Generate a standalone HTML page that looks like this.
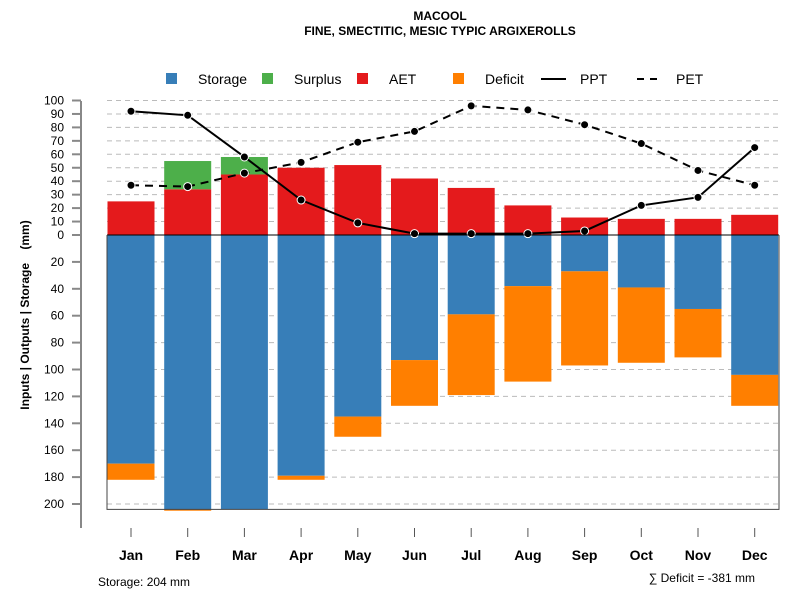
<!DOCTYPE html>
<html><head><meta charset="utf-8"><style>
body{margin:0;background:#fff}
svg text{font-family:"Liberation Sans",sans-serif}
</style></head><body>
<svg id="c" width="800" height="600" xmlns="http://www.w3.org/2000/svg">
<text x="440" y="20" text-anchor="middle" font-size="12" font-weight="bold">MACOOL</text>
<text x="440" y="35" text-anchor="middle" font-size="12" font-weight="bold">FINE, SMECTITIC, MESIC TYPIC ARGIXEROLLS</text>
<g id="grid"></g><g id="bars"></g><g id="lines"></g><g id="axes"></g>
<g font-size="14">
<rect x="166" y="73" width="11" height="11" fill="#377eb8"/><text x="198" y="84">Storage</text>
<rect x="262" y="73" width="11" height="11" fill="#4daf4a"/><text x="294" y="84">Surplus</text>
<rect x="357" y="73" width="11" height="11" fill="#e41a1c"/><text x="389" y="84">AET</text>
<rect x="453" y="73" width="11" height="11" fill="#ff7f00"/><text x="485" y="84">Deficit</text>
<line x1="541" y1="79" x2="566" y2="79" stroke="#000" stroke-width="2"/><text x="580" y="84">PPT</text>
<line x1="637" y1="79" x2="662" y2="79" stroke="#000" stroke-width="2" stroke-dasharray="7,6"/><text x="676" y="84">PET</text>
</g>
<text transform="translate(29,315) rotate(-90)" text-anchor="middle" font-size="12" font-weight="bold">Inputs | Outputs | Storage &#160;&#160;&#160;(mm)</text>
<text x="98" y="586" font-size="12">Storage: 204 mm</text>
<text x="755" y="582" text-anchor="end" font-size="12">∑ Deficit = -381 mm</text>
</svg>
<script>
const months=["Jan","Feb","Mar","Apr","May","Jun","Jul","Aug","Sep","Oct","Nov","Dec"];
const storage=[170,204,204,179,135,93,59,38,27,39,55,104];
const deficit=[12,1,0,3,15,34,60,71,70,56,36,23];
const aet=[25,34,45,50,52,42,35,22,13,12,12,15];
const surplus=[0,21,13,0,0,0,0,0,0,0,0,0];
const ppt=[92,89,58,26,9,1,1,1,3,22,28,65];
const pet=[37,36,46,54,69,77,96,93,82,68,48,37];
const upTicks=[0,10,20,30,40,50,60,70,80,90,100];
const downTicks=[20,40,60,80,100,120,140,160,180,200];
const NS="http://www.w3.org/2000/svg";
const K=1.345, Y0=235;
function y(v){return Y0-K*v;}
function x(i){return 131+i*56.7;}
function mk(tag,attrs,parent,name){const e=document.createElementNS(NS,tag);for(const k in attrs)e.setAttribute(k,attrs[k]);document.getElementById(parent).appendChild(e);


return e;}
const BW=47;
upTicks.forEach(t=>{if(t>0)mk('line',{x1:107,x2:779,y1:y(t),y2:y(t),stroke:'#bbb','stroke-dasharray':'5,4'},'grid','grid-line');});
downTicks.forEach(t=>{mk('line',{x1:107,x2:779,y1:y(-t),y2:y(-t),stroke:'#bbb','stroke-dasharray':'5,4'},'grid','grid-line');});
months.forEach((m,i)=>{
 const l=x(i)-BW/2;
 mk('rect',{x:l,y:Y0,width:BW,height:K*storage[i],fill:'#377eb8'},'bars','bar-storage-'+m.toLowerCase());
 if(deficit[i]>0)mk('rect',{x:l,y:Y0+K*storage[i],width:BW,height:K*deficit[i],fill:'#ff7f00'},'bars','bar-deficit-'+m.toLowerCase());
 mk('rect',{x:l,y:y(aet[i]),width:BW,height:K*aet[i],fill:'#e41a1c'},'bars','bar-aet-'+m.toLowerCase());
 if(surplus[i]>0)mk('rect',{x:l,y:y(aet[i]+surplus[i]),width:BW,height:K*surplus[i],fill:'#4daf4a'},'bars','bar-surplus-'+m.toLowerCase());
});
mk('line',{x1:107,x2:779,y1:Y0,y2:Y0,stroke:'#000'},'axes','zero-line');
const fb=Y0+K*204;
mk('polyline',{points:`107,${Y0} 107,${fb} 779,${fb} 779,${Y0}`,fill:'none',stroke:'#444','stroke-width':1},'axes','plot-frame');
function line(vals,dash,name){
 mk('polyline',{points:vals.map((v,i)=>x(i)+','+y(v)).join(' '),fill:'none',stroke:'#000','stroke-width':2,'stroke-dasharray':dash},'lines',name+'-line');
 vals.forEach((v,i)=>mk('circle',{cx:x(i),cy:y(v),r:4,fill:'#000',stroke:'#fff','stroke-width':1},'lines',name+'-point'));
}
line(pet,'8,6','pet');
line(ppt,'none','ppt');
mk('line',{x1:81,x2:81,y1:101,y2:528,stroke:'#888','stroke-width':2},'axes','y-axis-line');
function yt(v,label){
 mk('line',{x1:72,x2:81,y1:y(v),y2:y(v),stroke:'#888','stroke-width':2},'axes','y-tick');
 const t=mk('text',{x:64,y:y(v)+4,'text-anchor':'end','font-size':12},'axes','y-tick-label');t.textContent=label;
}
upTicks.forEach(t=>yt(t,t));
downTicks.forEach(t=>yt(-t,t));
months.forEach((m,i)=>{
 mk('line',{x1:x(i),x2:x(i),y1:528,y2:537,stroke:'#555'},'axes','x-tick');
 const t=mk('text',{x:x(i),y:560,'text-anchor':'middle','font-size':14,'font-weight':'bold'},'axes','x-label-'+m.toLowerCase());t.textContent=m;
});
</script>
</body></html>
